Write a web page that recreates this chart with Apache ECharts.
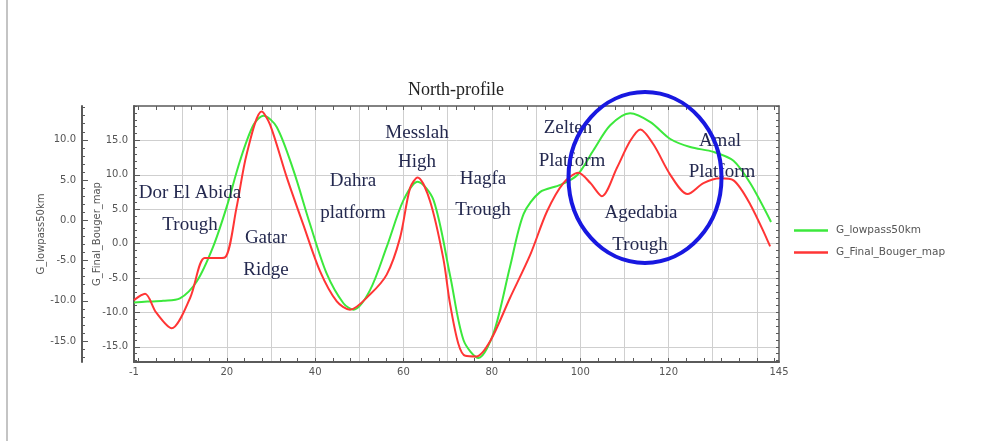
<!DOCTYPE html>
<html><head><meta charset="utf-8">
<script src="https://cdn.jsdelivr.net/npm/echarts@6/dist/echarts.min.js"></script>
<style>html,body{margin:0;padding:0;background:#fff}#c{width:990px;height:441px}</style>
</head><body><div id="c"></div>
<script>
// ---- data ----
const chartTitle = 'North-profile';
const seriesNames = ['G_lowpass50km', 'G_Final_Bouger_map'];
const greenX = [-1, 2, 5.6, 9.4, 13.2, 16.9, 20, 23, 26, 28.3, 31.3, 35.1, 38.8, 42.6, 46.4, 48.7, 52.4, 56.2, 60, 63.2, 66.8, 70.6, 73.6, 77, 80.4, 84.1, 87.2, 90.9, 95.5, 99.3, 103, 106.8, 111.3, 115.9, 120.4, 124.9, 130.2, 134.7, 138.5, 143.2];
const greenY = [-10.2, -10.1, -10.0, -9.7, -7.6, -3.3, 1.7, 7.4, 11.8, 13.0, 11.6, 6.2, -0.4, -6.6, -10.3, -11.1, -8.7, -3.3, 2.5, 4.8, 2.5, -7.0, -14.9, -17.1, -14.0, -5.8, 0.8, 3.5, 4.4, 5.6, 8.7, 11.8, 13.3, 12.2, 10.1, 9.1, 8.5, 7.4, 4.6, -0.2];
const redX = [-1, 1.5, 4, 7.5, 11.7, 15, 17.5, 19.6, 22.2, 24.5, 27.9, 29.8, 33.6, 37.3, 41.1, 44.9, 47.9, 52.4, 56.2, 59.2, 61.5, 63.2, 66, 69, 70.5, 72.4, 74, 76.5, 79.6, 84.1, 88.7, 92.5, 96.2, 99.6, 102.3, 104.9, 108.3, 111.3, 113.6, 116.6, 120.4, 124.3, 127.9, 131.7, 134.7, 138.5, 143];
const redY = [-8.2, -7.3, -10.0, -12.3, -7.9, -2.1, -2.1, -2.0, 5.2, 13.0, 19.2, 17.3, 9.6, 2.8, -4.0, -8.4, -9.6, -7.4, -4.5, 0.8, 8.1, 9.6, 6.2, -2.1, -8.6, -14.5, -16.3, -16.4, -14.2, -7.9, -1.6, 4.7, 8.8, 10.3, 8.8, 6.9, 11.0, 14.9, 16.6, 14.4, 10.0, 7.2, 8.8, 9.5, 9.2, 5.7, -0.4];
const xLabelValues = [-1, 20, 40, 60, 80, 100, 120, 145];
const xGridValues = [10, 20, 30, 40, 50, 60, 70, 80, 90, 100, 110, 120, 130, 140];
const redAxisLabels = [-15, -10, -5, 0, 5, 10, 15];
const greenAxisLabels = [-15, -10, -5, 0, 5, 10];
const annotations = [
  ['Dor El Abida', 190, 193], ['Trough', 190, 225],
  ['Gatar', 266, 238], ['Ridge', 266, 270],
  ['Dahra', 353, 181], ['platform', 353, 213],
  ['Messlah', 417, 133], ['High', 417, 162],
  ['Hagfa', 483, 179], ['Trough', 483, 210],
  ['Zelten', 568, 128], ['Platform', 572, 161],
  ['Agedabia', 641, 213], ['Trough', 640, 245],
  ['Amal', 720, 141], ['Platform', 722, 172]
];

function range(a, b, s) { const r = []; for (let v = a; v <= b + 1e-9; v += s) r.push(+v.toFixed(4)); return r; }
const pair = (xs, ys) => xs.map((x, i) => [x, ys[i]]);

const AX = '#5a5a5a';
const LBL = { fontFamily: 'DejaVu Sans', fontSize: 10, color: '#555' };
const X_MIN = -1, X_MAX = 145;
const R_MIN = -17.2, R_MAX = 20;
const G_MIN = -17.6, G_MAX = 14.2;

const chart = echarts.init(document.getElementById('c'), null, { renderer: 'canvas' });
const option = {
  animation: false,
  backgroundColor: '#fff',
  grid: { left: 134, right: 211, top: 106, bottom: 79, containLabel: false },
  legend: {
    orient: 'vertical', left: 789, top: 220, itemWidth: 34, itemHeight: 10, itemGap: 11,
    data: seriesNames.map(n => ({ name: n, icon: 'path://M0,4L34,4L34,6.5L0,6.5Z' })),
    textStyle: { fontFamily: 'DejaVu Sans', fontSize: 10.5, color: '#555', padding: [0, 0, 0, 3] }
  },
  xAxis: [
    { type: 'value', position: 'bottom', min: X_MIN, max: X_MAX,
      axisLine: { show: true, onZero: false, lineStyle: { color: AX, width: 2 } },
      axisTick: { show: true, inside: true, length: 4, customValues: range(0, 144, 4), lineStyle: { color: AX } },
      axisLabel: Object.assign({ customValues: xLabelValues, margin: 5 }, LBL),
      splitLine: { show: false } },
    { type: 'value', position: 'top', min: X_MIN, max: X_MAX,
      axisLine: { show: true, onZero: false, lineStyle: { color: AX, width: 1.5 } },
      axisTick: { show: true, inside: true, length: 4, customValues: range(0, 144, 4), lineStyle: { color: AX } },
      axisLabel: { show: false }, splitLine: { show: false } },
    { type: 'value', position: 'bottom', min: X_MIN, max: X_MAX,
      axisLine: { show: false, onZero: false },
      axisTick: { show: false, customValues: xGridValues },
      axisLabel: { show: false },
      splitLine: { show: true, lineStyle: { color: '#cfcfcf', width: 1 } } }
  ],
  yAxis: [
    { type: 'value', position: 'left', min: R_MIN, max: R_MAX,
      name: seriesNames[1], nameLocation: 'middle', nameRotate: 90, nameGap: 32, nameMoveOverlap: false,
      nameTextStyle: { fontFamily: 'DejaVu Sans', fontSize: 10, color: '#555' },
      axisLine: { show: true, onZero: false, lineStyle: { color: AX, width: 2 } },
      axisTick: { show: true, inside: true, length: 6, customValues: redAxisLabels, lineStyle: { color: AX } },
      axisLabel: Object.assign({ customValues: redAxisLabels, margin: 6, formatter: v => v.toFixed(1) }, LBL),
      splitLine: { show: true, lineStyle: { color: '#cfcfcf', width: 1 } } },
    { type: 'value', position: 'left', offset: 52, min: G_MIN, max: G_MAX,
      name: seriesNames[0], nameLocation: 'middle', nameRotate: 90, nameGap: 36, nameMoveOverlap: false,
      nameTextStyle: { fontFamily: 'DejaVu Sans', fontSize: 10, color: '#555' },
      axisLine: { show: true, onZero: false, lineStyle: { color: AX, width: 2 } },
      axisTick: { show: true, inside: true, length: 6, customValues: greenAxisLabels, lineStyle: { color: AX } },
      axisLabel: Object.assign({ customValues: greenAxisLabels, margin: 6, formatter: v => v.toFixed(1) }, LBL),
      splitLine: { show: false } },
    { type: 'value', position: 'left', min: R_MIN, max: R_MAX,
      axisLine: { show: false, onZero: false },
      axisTick: { show: true, inside: true, length: 3, customValues: range(-17, 20, 1), lineStyle: { color: AX } },
      axisLabel: { show: false }, splitLine: { show: false } },
    { type: 'value', position: 'left', offset: 52, min: G_MIN, max: G_MAX,
      axisLine: { show: false, onZero: false },
      axisTick: { show: true, inside: true, length: 3, customValues: range(-17, 14, 1), lineStyle: { color: AX } },
      axisLabel: { show: false }, splitLine: { show: false } },
    { type: 'value', position: 'right', min: R_MIN, max: R_MAX,
      axisLine: { show: true, onZero: false, lineStyle: { color: AX, width: 1.5 } },
      axisTick: { show: true, inside: true, length: 3, customValues: range(-17, 20, 1), lineStyle: { color: AX } },
      axisLabel: { show: false }, splitLine: { show: false } }
  ],
  series: [
    { name: seriesNames[0], type: 'line', xAxisIndex: 0, yAxisIndex: 1, data: pair(greenX, greenY),
      showSymbol: false, symbol: 'none', smooth: 0.3, z: 3,
      lineStyle: { color: '#3ce83c', width: 2 }, itemStyle: { color: '#3ce83c' } },
    { name: seriesNames[1], type: 'line', xAxisIndex: 0, yAxisIndex: 0, data: pair(redX, redY),
      showSymbol: false, symbol: 'none', smooth: 0.3, z: 4,
      lineStyle: { color: '#ff3535', width: 2 }, itemStyle: { color: '#ff3535' } }
  ],
  graphic: [
    { type: 'line', shape: { x1: 7, y1: 0, x2: 7, y2: 441 }, style: { stroke: '#c4c4c4', lineWidth: 2 }, silent: true },
    { type: 'text', x: 456, y: 90, style: { text: chartTitle, font: '18px "Liberation Serif"', fill: '#222', align: 'center', verticalAlign: 'middle' }, z: 10 }
  ].concat(annotations.map(a => ({
    type: 'text', x: a[1], y: a[2], z: 10,
    style: { text: a[0], font: '19px "Liberation Serif"', fill: '#24294f', align: 'center', verticalAlign: 'middle' }
  }))).concat([
    { type: 'ellipse', shape: { cx: 645, cy: 177.5, rx: 76.5, ry: 85.5 }, z: 11,
      style: { fill: 'none', stroke: '#1818e0', lineWidth: 4 } }
  ])
};
chart.setOption(option);
</script></body></html>
